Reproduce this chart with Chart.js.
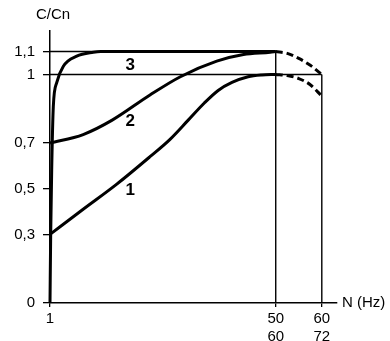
<!DOCTYPE html>
<html>
<head>
<meta charset="utf-8">
<script src="https://cdn.jsdelivr.net/npm/chart.js@4"></script>
<style>
  html, body { margin: 0; padding: 0; background: #fff; }
  #wrap { width: 390px; height: 341px; position: relative; }
</style>
</head>
<body>
<div id="wrap"><canvas id="chart-cn"></canvas></div>
<script>
// curve 1
const curve1Freq = [1, 8.2, 15.5, 22.7, 27, 31, 34.5, 37.5, 40.5, 44, 47, 50];
const curve1Ratio = [0.3, 0.41, 0.52, 0.64, 0.715, 0.8, 0.875, 0.93, 0.965, 0.99, 0.998, 1.0];
// curve 2
const curve2Freq = [1, 8.2, 14.5, 22.7, 29.3, 37.2, 43, 48.8, 50];
const curve2Ratio = [0.7, 0.737, 0.8, 0.91, 0.99, 1.058, 1.087, 1.097, 1.1];
// curve 3
const curve3Freq = [1, 1.15, 1.37, 1.72, 2.46, 3.9, 6.8, 10.4, 12, 50];
const curve3Ratio = [0, 0.3, 0.585, 0.86, 0.964, 1.036, 1.08, 1.097, 1.1, 1.1];
// dashed parts above 50 Hz
const overFreq = [50, 52.5, 55, 57.5, 60];
const overUpper = [1.1, 1.092, 1.07, 1.04, 1.0];
const overLower = [1.0, 0.995, 0.982, 0.955, 0.905];

// guide lines: level -> freq where it stops
const refLevels = [1.1, 1];
const refFreqs = [50, 60];

const yTicks = [0, 0.3, 0.5, 0.7, 1, 1.1];
const yTickLabels = ['0', '0,3', '0,5', '0,7', '1', '1,1'];
const xTicks = [1, 50, 60];
const xTickLabels = [['1'], ['50', '60'], ['60', '72']];

const curveNames = ['1', '2', '3'];

function pts(xs, ys) {
  return xs.map((v, i) => ({ x: v, y: ys[i] }));
}

const FONT = '"Liberation Sans", Arial, sans-serif';

function curve(data, dashed) {
  return {
    data: data,
    borderColor: '#000',
    borderWidth: 3,
    borderDash: dashed ? [7, 4] : [],
    pointRadius: 0,
    cubicInterpolationMode: 'monotone',
    clip: false
  };
}

function guide(data) {
  return {
    data: data,
    borderColor: '#000',
    borderWidth: 1.4,
    pointRadius: 0,
    tension: 0,
    clip: false
  };
}

const datasets = [];
refLevels.forEach((lvl, i) => {
  datasets.push(guide([{ x: 1, y: lvl }, { x: refFreqs[i], y: lvl }]));
  datasets.push(guide([{ x: refFreqs[i], y: 0 }, { x: refFreqs[i], y: lvl }]));
});
datasets.push(curve(pts(curve1Freq, curve1Ratio), false));
datasets.push(curve(pts(curve2Freq, curve2Ratio), false));
datasets.push(curve(pts(curve3Freq, curve3Ratio), false));
datasets.push(curve(pts(overFreq, overUpper), true));
datasets.push(curve(pts(overFreq, overLower), true));

// where the curve numbers sit (data units)
const nameSpots = [[18.4, 0.494], [18.4, 0.793], [18.4, 1.041]];

const textPlugin = {
  id: 'texts',
  afterDraw(chart) {
    const { ctx, chartArea, scales } = chart;
    ctx.save();
    ctx.fillStyle = '#000';
    ctx.font = '15px ' + FONT;
    ctx.textBaseline = 'middle';
    ctx.textAlign = 'center';
    ctx.fillText('C/Cn', chartArea.left + 3, 15);
    ctx.textAlign = 'left';
    ctx.fillText('N (Hz)', chartArea.right + 5, chartArea.bottom);
    ctx.font = 'bold 17px ' + FONT;
    ctx.textAlign = 'center';
    curveNames.forEach((n, i) => {
      ctx.fillText(n, scales.x.getPixelForValue(nameSpots[i][0]), scales.y.getPixelForValue(nameSpots[i][1]));
    });
    ctx.restore();
  }
};

const config = {
  type: 'line',
  data: { datasets: datasets },
  options: {
    responsive: true,
    maintainAspectRatio: false,
    animation: false,
    layout: { padding: { top: 31, right: 53, bottom: 0, left: 0 } },
    plugins: {
      legend: { display: false },
      tooltip: { enabled: false }
    },
    scales: {
      x: {
        type: 'linear',
        min: 1,
        max: 63.3,
        afterBuildTicks: s => { s.ticks = xTicks.map(v => ({ value: v })); },
        afterFit: s => { s.height = 38; },
        grid: { drawOnChartArea: false, tickLength: 4, color: '#000', lineWidth: 1.3 },
        border: { color: '#000', width: 1.5 },
        ticks: {
          callback: (v, i) => xTickLabels[i],
          color: '#000',
          font: { family: FONT, size: 15, lineHeight: 1.25 },
          padding: 2,
          maxRotation: 0,
          autoSkip: false
        }
      },
      y: {
        type: 'linear',
        min: 0,
        max: 1.19,
        afterBuildTicks: s => { s.ticks = yTicks.map(v => ({ value: v })); },
        afterFit: s => { s.width = 50; },
        grid: { drawOnChartArea: false, tickLength: 7, color: '#000', lineWidth: 1.3 },
        border: { color: '#000', width: 1.5 },
        ticks: {
          callback: (v, i) => yTickLabels[i],
          color: '#000',
          font: { family: FONT, size: 15 },
          padding: 8,
          autoSkip: false
        }
      }
    }
  },
  plugins: [textPlugin]
};

const chartCn = new Chart(document.getElementById('chart-cn'), config);
</script>
</body>
</html>
